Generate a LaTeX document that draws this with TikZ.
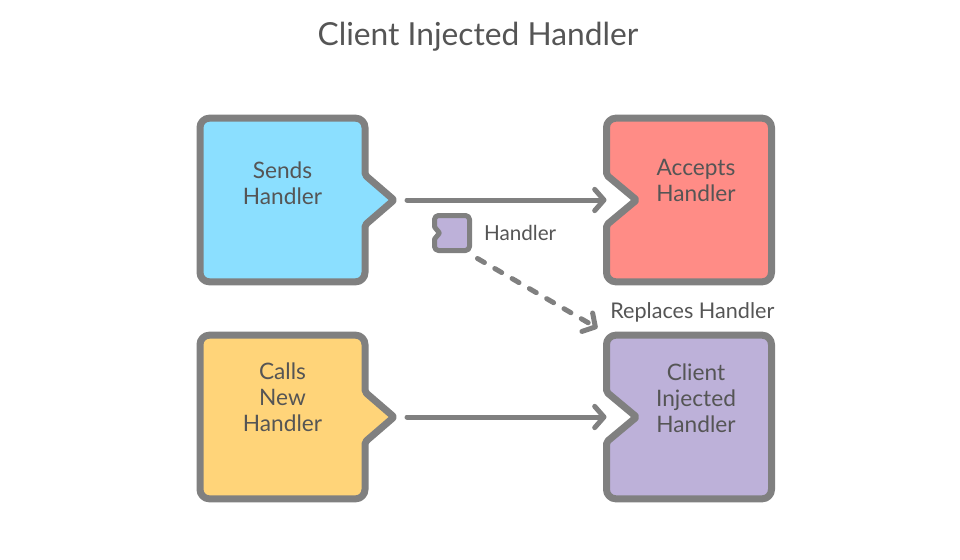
\documentclass[tikz,border=0pt]{standalone}
\usepackage{fontspec}
\setmainfont{Lato}
\usetikzlibrary{positioning,calc,arrows.meta}

\definecolor{edgegray}{RGB}{128,128,128}
\definecolor{inkgray}{RGB}{85,85,85}
\definecolor{sendsblue}{RGB}{139,223,255}
\definecolor{acceptsred}{RGB}{255,140,134}
\definecolor{callsyellow}{RGB}{255,212,121}
\definecolor{clientpurple}{RGB}{189,177,217}

\tikzset{every picture/.style={line width=0.75pt}}
\tikzset{
  card/.style={minimum width=123pt, minimum height=122pt, inner sep=0pt},
  chip/.style={minimum width=25.5pt, minimum height=25.5pt, inner sep=0pt},
  cardedge/.style={draw=edgegray, line width=5.25pt, rounded corners=7pt, line join=round},
  cardtext/.style={align=center, text=inkgray, font=\fontsize{17}{19.5}\selectfont, inner sep=0pt},
  note/.style={text=inkgray, font=\fontsize{15.5}{18}\selectfont, inner sep=0pt},
  flow/.style={draw=edgegray, line width=3.75pt, line cap=round,
    -{Straight Barb[length=7pt,width=16pt,line cap=round,line join=round]}},
}

\begin{document}
\begin{tikzpicture}[x=0.75pt,y=0.75pt,yscale=-1,xscale=1]
\path (0,0) rectangle (960,560); %set diagram size 960 x 560

% Text Node
\node [text=inkgray, font=\fontsize{23.8}{28}\selectfont, inner sep=0pt] (title) at (478,37) {Client Injected Handler};

%Boxes
\node [card] (sends) at (282.5,200) {};
\node [card] (accepts) at (689,200) {};
\node [card] (calls) at (282.5,417) {};
\node [card] (client) at (689,417) {};
\node [chip] (token) at (452,233) {};

%Shape: Sends (tab out)
\draw [cardedge, fill=sendsblue] (sends.north) -- (sends.north east) [rounded corners=1.5pt] -- ($(sends.east)+(0,-25)$) -- ($(sends.east)+(29,0)$) -- ($(sends.east)+(0,25)$) [rounded corners=7pt] -- (sends.south east) -- (sends.south west) -- (sends.north west) -- cycle;
%Shape: Calls (tab out)
\draw [cardedge, fill=callsyellow] (calls.north) -- (calls.north east) [rounded corners=1.5pt] -- ($(calls.east)+(0,-25)$) -- ($(calls.east)+(29,0)$) -- ($(calls.east)+(0,25)$) [rounded corners=7pt] -- (calls.south east) -- (calls.south west) -- (calls.north west) -- cycle;
%Shape: Accepts (slot in)
\draw [cardedge, fill=acceptsred] (accepts.north) -- (accepts.north east) -- (accepts.south east) -- (accepts.south west) [rounded corners=1.5pt] -- ($(accepts.west)+(0,25)$) -- ($(accepts.west)+(30,0)$) -- ($(accepts.west)+(0,-25)$) [rounded corners=7pt] -- (accepts.north west) -- cycle;
%Shape: Client (slot in)
\draw [cardedge, fill=clientpurple] (client.north) -- (client.north east) -- (client.south east) -- (client.south west) [rounded corners=1.5pt] -- ($(client.west)+(0,25)$) -- ($(client.west)+(30,0)$) -- ($(client.west)+(0,-25)$) [rounded corners=7pt] -- (client.north west) -- cycle;
%Shape: small handler
\draw [cardedge, line width=3.75pt, rounded corners=3pt, fill=clientpurple] (token.north) -- (token.north east) -- (token.south east) -- (token.south west) [rounded corners=0.5pt] -- ($(token.west)+(0,6)$) -- ($(token.west)+(5,0)$) -- ($(token.west)+(0,-6)$) [rounded corners=3pt] -- (token.north west) -- cycle;

% Text Node
\node [cardtext] (sendsText) at ([yshift=-12.75pt]sends.center) {Sends\\Handler};
% Text Node
\node [cardtext] (acceptsText) at ([xshift=5.25pt,yshift=-15pt]accepts.center) {Accepts\\Handler};
% Text Node
\node [cardtext] (callsText) at ([yshift=-15pt]calls.center) {Calls\\New\\Handler};
% Text Node
\node [cardtext] (clientText) at ([xshift=5.25pt,yshift=-14pt]client.center) {Client\\Injected\\Handler};
% Text Node
\node [note, right=10.5pt of token] (tokenText) {Handler};
% Text Node
\node [note, font=\fontsize{16.2}{18}\selectfont, above=9.5pt of client, xshift=2.5pt] (replacesText) {Replaces Handler};

%Straight Lines
\draw [flow] ([xshift=31.5pt]sends.east) -- (accepts.west);
\draw [flow] ([xshift=31.5pt]calls.east) -- (client.west);
\draw [flow, dash pattern=on 6pt off 9pt] ([shift={(8,8)}]token.south east) -- ([shift={(-9,-7)}]client.north west);

\end{tikzpicture}
\end{document}
